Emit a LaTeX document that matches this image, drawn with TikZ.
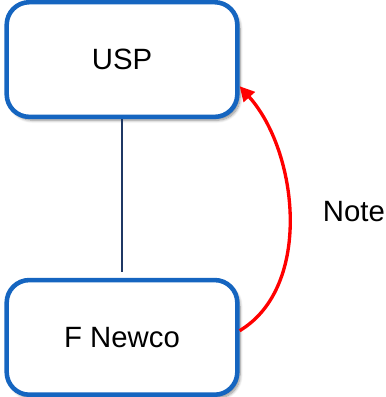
\documentclass[tikz,border=0pt]{standalone}
\usepackage{fontspec}
\setmainfont{Liberation Sans}
\usepackage{xcolor}
\usetikzlibrary{positioning, arrows.meta, shadows.blur}
\definecolor{boxblue}{RGB}{21,101,192}
\definecolor{linknavy}{RGB}{31,56,100}

\begin{document}
\begin{tikzpicture}[node distance=119pt,
	entity/.style={draw=boxblue, line width=3.4pt, fill=white, rounded corners=17pt,
		minimum width=173pt, minimum height=86pt,
		blur shadow={shadow xshift=2pt, shadow yshift=-2.5pt, shadow blur steps=8, shadow opacity=45},
		font=\fontsize{22}{26}\selectfont},
	notetext/.style={font=\fontsize{22}{26}\selectfont, inner sep=0pt}]
	\useasboundingbox (0,0) rectangle (289.5pt,297.75pt);
	\node[entity] (usp) at (91.5pt,253.1pt) {USP};
	\node[entity, below=of usp] (newco) {F Newco};
	\node[notetext, anchor=west] (note) at (242pt,138.75pt) {Note};
	
	\draw[linknavy, line width=0.8pt] (usp.south) -- ([yshift=4.5pt]newco.north);
	\draw[red, line width=2.5pt, -{Triangle[length=11pt, width=11pt]}]
		([yshift=5pt]newco.east) .. controls +(55pt,33pt) and +(44pt,-49pt) .. ([yshift=-20pt]usp.east);
\end{tikzpicture}
\end{document}
